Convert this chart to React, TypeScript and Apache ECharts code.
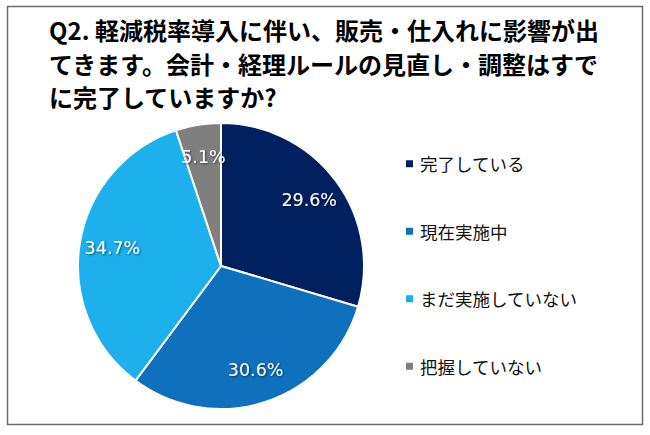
import React, { useEffect, useRef } from "react";
import * as echarts from "echarts";

const TITLE_LINES = [
  "Q2. 軽減税率導入に伴い、販売・仕入れに影響が出",
  "てきます。会計・経理ルールの見直し・調整はすで",
  "に完了していますか?",
];
const CATEGORIES = ["完了している", "現在実施中", "まだ実施していない", "把握していない"];
const VALUES = [29.6, 30.6, 34.7, 5.1];
const COLORS = ["#002060", "#0F70BE", "#1DB0EC", "#7F7F7F"];

export default function App() {
  const ref = useRef<HTMLDivElement>(null);
  useEffect(() => {
    if (!ref.current) return;
    const chart = echarts.init(ref.current, null, { renderer: "svg" });
    const data = CATEGORIES.map((name, i) => ({
      name,
      value: VALUES[i],
      itemStyle: { color: COLORS[i] },
    }));
    chart.setOption({
      animation: false,
      backgroundColor: "#ffffff",
      graphic: [
        {
          type: "rect",
          shape: { x: 7.5, y: 6.5, width: 635, height: 418 },
          style: { fill: "none", stroke: "#6b6b6b", lineWidth: 1.5 },
          silent: true,
        },
      ],
      title: {
        text: TITLE_LINES.join("\n"),
        left: 44,
        top: 8,
        textStyle: {
          fontFamily: "Noto Sans CJK JP",
          fontWeight: "bold",
          fontSize: 24,
          lineHeight: 33.5,
          color: "#000000",
        },
      },
      legend: {
        orient: "vertical",
        left: 399,
        top: 150,
        itemWidth: 9,
        itemHeight: 9,
        itemGap: 50,
        icon: "rect",
        data: CATEGORIES,
        textStyle: {
          fontFamily: "Noto Sans CJK JP",
          fontSize: 17.5,
          color: "#111111",
          padding: [0, 0, 0, 1],
        },
      },
      series: [
        {
          type: "pie",
          center: [221, 266],
          radius: [0, 143],
          startAngle: 90,
          clockwise: true,
          data,
          itemStyle: { borderColor: "#ffffff", borderWidth: 2 },
          label: { show: false },
          labelLine: { show: false },
          emphasis: { disabled: true },
        },
        {
          type: "pie",
          center: [221, 266],
          radius: [71, 143],
          startAngle: 90,
          clockwise: true,
          silent: true,
          data: data.map((d) => ({ ...d, itemStyle: { color: "rgba(0,0,0,0)" } })),
          itemStyle: { borderWidth: 0 },
          label: {
            show: true,
            position: "inner",
            formatter: (p: any) => p.value.toFixed(1) + "%",
            color: "#ffffff",
            fontFamily: "Verdana, DejaVu Sans, sans-serif",
            fontSize: 17.5,
            textShadowColor: "rgba(0,0,0,0.55)",
            textShadowBlur: 2,
            textShadowOffsetX: 1,
            textShadowOffsetY: 1,
          },
          labelLine: { show: false },
          emphasis: { disabled: true },
        },
      ],
    });
    return () => chart.dispose();
  }, []);
  return (
    <div
      ref={ref}
      style={{ position: "fixed", left: 0, top: 0, width: 650, height: 435 }}
    />
  );
}
